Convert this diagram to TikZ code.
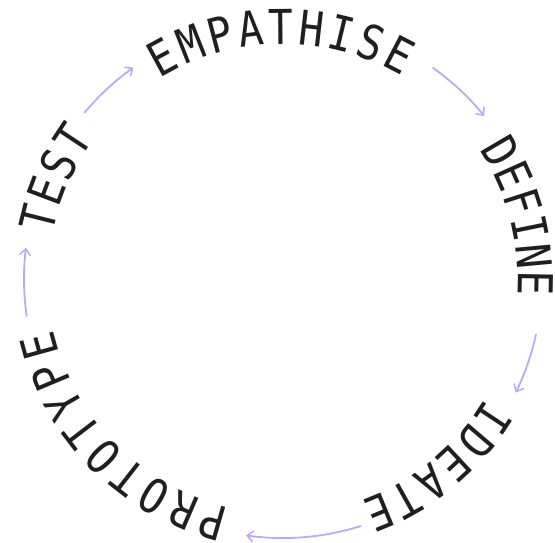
\documentclass[tikz,border=0pt]{standalone}
\usepackage{fontspec}
\newfontfamily\cycfont{DejaVu Sans Mono}
\usetikzlibrary{arrows.meta}
\definecolor{arrowlav}{HTML}{BBAAF2}
\tikzset{
  letter/.style={anchor=base, inner sep=0pt, font=\cycfont\fontsize{48}{48}\selectfont, text=black!88},
  cyclearrow/.style={draw=arrowlav, line width=1.8pt, line cap=round,
    -{Straight Barb[length=6pt,width=11pt,line width=1.6pt]}}
}
% #1 name, #2 centre angle, #3 step angle, #4 letter count, #5 letters
\newcommand\circleword[5]{%
  \foreach \l [count=\i] in {#5} {%
    \pgfmathsetmacro\ang{#2+((#4+1)/2-\i)*#3}%
    \node[letter, rotate=\ang-90] (#1-\i) at (\ang:235pt) {\scalebox{0.86}[1]{\l}};
  }%
}
\begin{document}
\begin{tikzpicture}
\useasboundingbox (-283pt,-264pt) rectangle (272pt,279pt);
\circleword{empathise}{90.5}{7.0}{9}{E,M,P,A,T,H,I,S,E}
\circleword{define}{14.7}{6.3}{6}{D,E,F,I,N,E}
\circleword{ideate}{-50.6}{6.8}{6}{I,D,E,A,T,E}
\circleword{prototype}{224.7}{7.3}{9}{P,R,O,T,O,T,Y,P,E}
\circleword{test}{156.2}{6.5}{4}{T,E,S,T}
% connectors between the stages
\coordinate (c1) at (188.2:259pt);
\coordinate (c2) at (140:259pt);
\coordinate (c3) at (54.6:259pt);
\coordinate (c4) at (-12.4:259pt);
\coordinate (c5) at (-72.5:259pt);
\draw[cyclearrow] (c1) arc[start angle=188.2, end angle=173.1, radius=259pt];
\draw[cyclearrow] (c2) arc[start angle=140, end angle=125.3, radius=259pt];
\draw[cyclearrow] (c3) arc[start angle=54.6, end angle=39, radius=259pt];
\draw[cyclearrow] (c4) arc[start angle=-12.4, end angle=-26, radius=259pt];
\draw[cyclearrow] (c5) arc[start angle=-72.5, end angle=-98.2, radius=259pt];
\end{tikzpicture}
\end{document}
